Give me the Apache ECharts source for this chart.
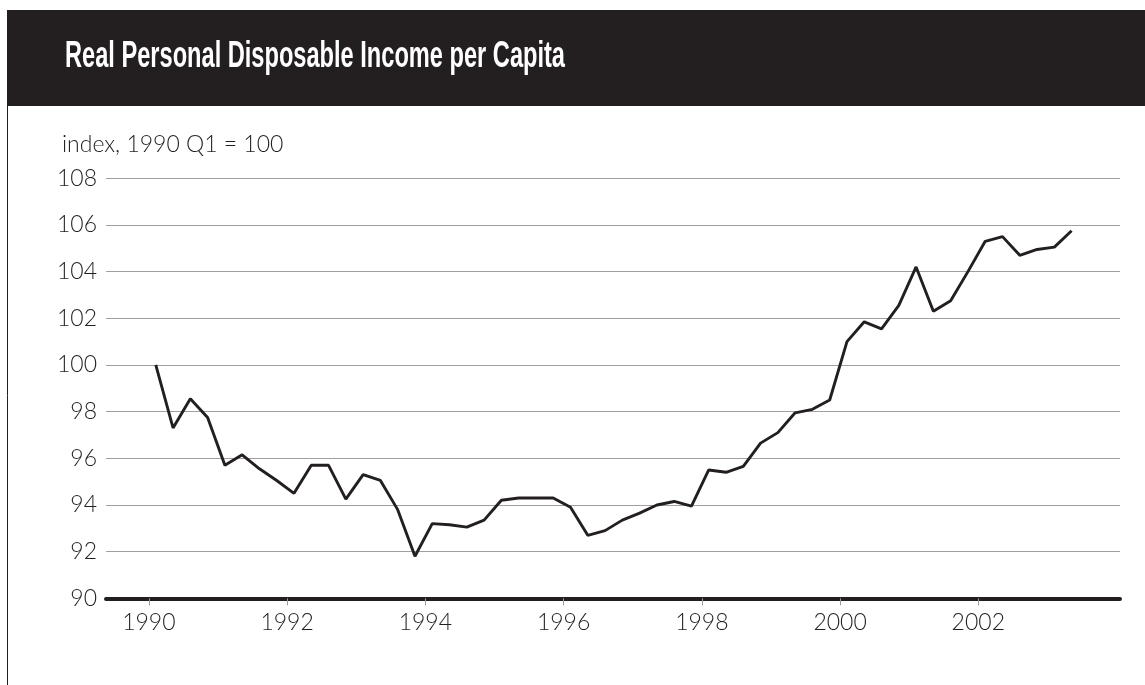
<!DOCTYPE html>
<html>
<head>
<meta charset="utf-8">
<script src="https://cdn.jsdelivr.net/npm/echarts@6/dist/echarts.min.js"></script>
<style>
html,body{margin:0;padding:0;background:#fff;}
#chart{width:1145px;height:685px;}
</style>
</head>
<body>
<div id="chart"></div>
<script>
const chartTitle = 'Real Personal Disposable Income per Capita';
const unitLabel = 'index, 1990 Q1 = 100';
const quarters = [
  '1990 Q1','1990 Q2','1990 Q3','1990 Q4',
  '1991 Q1','1991 Q2','1991 Q3','1991 Q4',
  '1992 Q1','1992 Q2','1992 Q3','1992 Q4',
  '1993 Q1','1993 Q2','1993 Q3','1993 Q4',
  '1994 Q1','1994 Q2','1994 Q3','1994 Q4',
  '1995 Q1','1995 Q2','1995 Q3','1995 Q4',
  '1996 Q1','1996 Q2','1996 Q3','1996 Q4',
  '1997 Q1','1997 Q2','1997 Q3','1997 Q4',
  '1998 Q1','1998 Q2','1998 Q3','1998 Q4',
  '1999 Q1','1999 Q2','1999 Q3','1999 Q4',
  '2000 Q1','2000 Q2','2000 Q3','2000 Q4',
  '2001 Q1','2001 Q2','2001 Q3','2001 Q4',
  '2002 Q1','2002 Q2','2002 Q3','2002 Q4',
  '2003 Q1','2003 Q2'
];
const incomeIndex = [
  100.0, 97.3, 98.55, 97.75,
  95.7, 96.15, 95.55, 95.05,
  94.5, 95.7, 95.7, 94.25,
  95.3, 95.05, 93.8, 91.8,
  93.2, 93.15, 93.05, 93.35,
  94.2, 94.3, 94.3, 94.3,
  93.9, 92.7, 92.9, 93.35,
  93.65, 94.0, 94.15, 93.95,
  95.5, 95.4, 95.65, 96.65,
  97.1, 97.95, 98.1, 98.5,
  101.0, 101.85, 101.55, 102.55,
  104.2, 102.3, 102.75, 104.0,
  105.3, 105.5, 104.7, 104.95,
  105.05, 105.75
];
const xTickYears = [1990, 1992, 1994, 1996, 1998, 2000, 2002];
const yTicks = [90, 92, 94, 96, 98, 100, 102, 104, 106, 108];

function quarterToYear(label) {
  const parts = label.split(' Q');
  return Number(parts[0]) + (Number(parts[1]) - 1) / 4 + 0.1;
}
const seriesData = quarters.map((q, i) => [quarterToYear(q), incomeIndex[i]]);

const dark = '#231f20';
const labelFont = { fontFamily: 'Lato, "Open Sans", sans-serif', fontSize: 23, fontWeight: 300, color: dark };

// condensed look for the title: measure natural width and squeeze horizontally
const titleFont = 'bold 36px "Liberation Sans", Arial, sans-serif';
const titleTargetWidth = 500;
const mctx = document.createElement('canvas').getContext('2d');
mctx.font = titleFont;
const titleScaleX = titleTargetWidth / mctx.measureText(chartTitle).width;

const chart = echarts.init(document.getElementById('chart'), null, { renderer: 'canvas' });
chart.setOption({
  animation: false,
  backgroundColor: '#ffffff',
  graphic: [
    { type: 'rect', z: 0, shape: { x: 7, y: 10, width: 1138, height: 96 }, style: { fill: dark } },
    { type: 'line', z: 0, shape: { x1: 7.5, y1: 106, x2: 7.5, y2: 685 }, style: { stroke: dark, lineWidth: 1 } },
    { type: 'text', z: 10, x: 65, y: 57.5, scaleX: titleScaleX,
      style: { text: chartTitle, x: 0, y: 0, fill: '#ffffff', verticalAlign: 'middle', font: titleFont } },
    { type: 'text', z: 10, style: { text: unitLabel, x: 62, y: 145, fill: dark, verticalAlign: 'middle',
        fontFamily: labelFont.fontFamily, fontSize: 23, fontWeight: 300 } }
  ],
  grid: { left: 106, right: 25, top: 178.3, bottom: 86.7, containLabel: false },
  xAxis: {
    type: 'value',
    min: 1989.38,
    max: 2004.05,
    axisLine: { show: true, lineStyle: { color: dark, width: 4 } },
    axisTick: { show: true, customValues: xTickYears, length: 7, lineStyle: { color: '#999999', width: 1 } },
    axisLabel: Object.assign({ customValues: xTickYears, margin: 13, formatter: v => String(v) }, labelFont),
    splitLine: { show: false }
  },
  yAxis: {
    type: 'value',
    min: yTicks[0],
    max: yTicks[yTicks.length - 1],
    interval: 2,
    axisLine: { show: false },
    axisTick: { show: false },
    axisLabel: Object.assign({ margin: 9 }, labelFont),
    splitLine: { show: true, lineStyle: { color: '#a0a0a0', width: 1.2 } }
  },
  series: [{
    type: 'line',
    data: seriesData,
    showSymbol: false,
    symbol: 'none',
    lineStyle: { color: dark, width: 2.9 },
    z: 5
  }]
});
</script>
</body>
</html>
